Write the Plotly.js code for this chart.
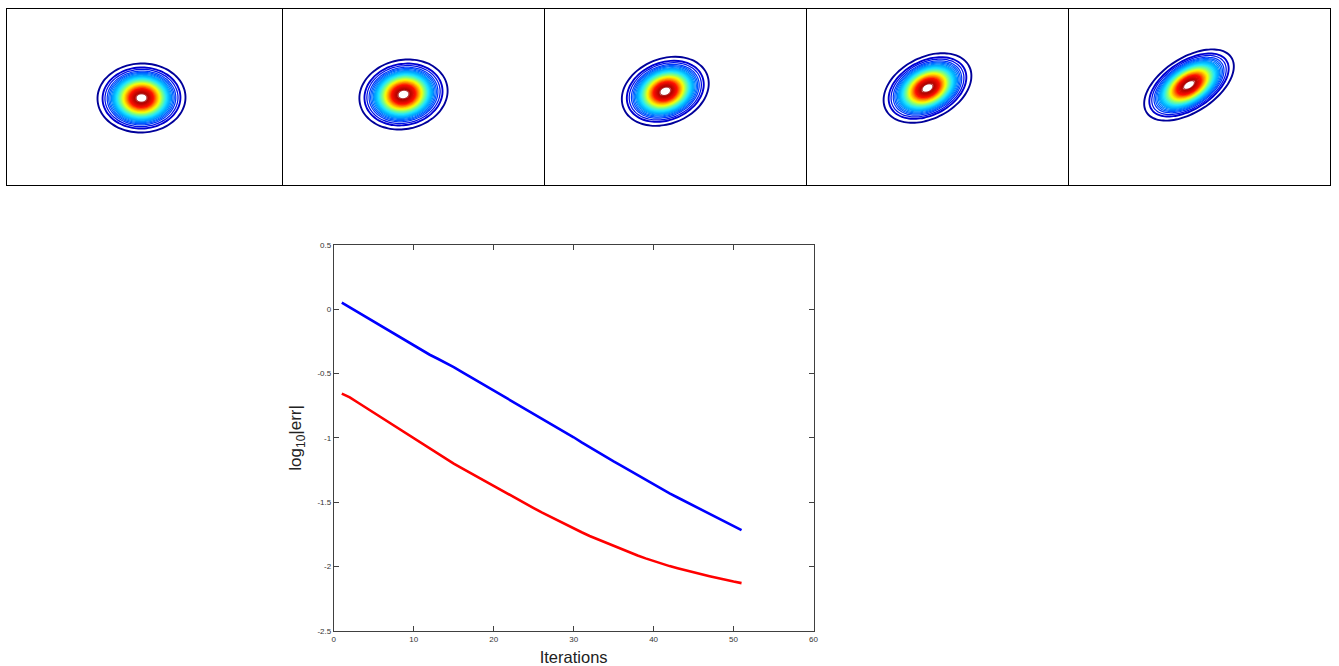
<!DOCTYPE html>
<html>
<head>
<meta charset="utf-8">
<script src="https://cdn.plot.ly/plotly-3.0.1.min.js"></script>
<style>html,body{margin:0;padding:0;background:#fff}#chart{width:1339px;height:666px}</style>
</head>
<body>
<div id="chart"></div>
<script>
// Line chart series
var iterations = [1,2,3,4,5,6,7,8,9,10,11,12,13,14,15,16,17,18,19,20,21,22,23,24,25,26,27,28,29,30,31,32,33,34,35,36,37,38,39,40,41,42,43,44,45,46,47,48,49,50,51];
var errBlue = [0.05,0.013,-0.024,-0.06,-0.097,-0.134,-0.17,-0.207,-0.244,-0.28,-0.317,-0.354,-0.385,-0.415,-0.45,-0.487,-0.523,-0.56,-0.596,-0.632,-0.668,-0.704,-0.741,-0.777,-0.813,-0.85,-0.886,-0.922,-0.958,-0.995,-1.035,-1.073,-1.111,-1.147,-1.183,-1.218,-1.254,-1.289,-1.325,-1.36,-1.396,-1.431,-1.463,-1.495,-1.527,-1.558,-1.59,-1.622,-1.654,-1.686,-1.717];
var errRed = [-0.656,-0.685,-0.725,-0.765,-0.805,-0.845,-0.885,-0.925,-0.965,-1.005,-1.045,-1.085,-1.12,-1.165,-1.2,-1.235,-1.27,-1.305,-1.34,-1.375,-1.41,-1.445,-1.48,-1.513,-1.545,-1.578,-1.61,-1.642,-1.673,-1.703,-1.733,-1.762,-1.788,-1.815,-1.842,-1.867,-1.891,-1.914,-1.936,-1.957,-1.977,-1.996,-2.013,-2.03,-2.045,-2.06,-2.075,-2.09,-2.104,-2.116,-2.128];
var xTicks = [0,10,20,30,40,50,60];
var yTicks = [0.5,0,-0.5,-1,-1.5,-2,-2.5];
var yTickLabels = ['0.5','0','-0.5','-1','-1.5','-2','-2.5'];

// Contour panels: ellipse
var panelLeft   = [7,283,545,807,1069];
var panelRight  = [282,544,806,1068,1330];
var centreX     = [141.5,403.5,665.3,927.5,1189];
var centreY     = [98,94.5,91.3,88,85];
var semiMajor   = [44,44.5,45,47,50.5];
var semiMinor   = [34.5,34.5,32.5,30.5,27];
var tiltDegrees = [2,12,22,28,33];

// Relative contour levels, outermost first
var ringLevels = [1.0,0.885,0.83,0.78,0.745,0.715,0.685,0.66,0.635,0.61,0.585,0.56,0.535,0.51,0.485,0.46,0.435,0.41,0.385,0.36,0.335,0.31,0.285,0.26,0.235,0.21,0.185,0.16,0.14,0.12];
var levelStops = [[1,'#00009a'],[0.85,'#0000e0'],[0.75,'#0050ff'],[0.62,'#00b4ff'],[0.55,'#20e8ff'],[0.47,'#80ff80'],[0.40,'#ffff00'],[0.33,'#ff9000'],[0.26,'#ff1000'],[0.12,'#a00000']];

function hex(c){return [parseInt(c.substr(1,2),16),parseInt(c.substr(3,2),16),parseInt(c.substr(5,2),16)];}
function ringColour(level){
  for(var i=1;i<levelStops.length;i++){
    if(level>=levelStops[i][0]){
      var a=levelStops[i-1],b=levelStops[i],f=(a[0]-level)/(a[0]-b[0]),p=hex(a[1]),q=hex(b[1]);
      return 'rgb('+[0,1,2].map(function(k){return Math.round(p[k]+(q[k]-p[k])*f);}).join(',')+')';
    }
  }
  return levelStops[levelStops.length-1][1];
}

var W=1339,H=666,boxTop=9,boxBottom=185;
var traces=[],layout={
  width:W,height:H,margin:{l:0,r:0,t:0,b:0},paper_bgcolor:'#fff',plot_bgcolor:'#fff',showlegend:false,
  font:{family:'"Liberation Sans",Arial,sans-serif',color:'#222'}
};

panelLeft.forEach(function(left,p){
  var n=p+1, xa='xaxis'+n, ya='yaxis'+n;
  layout[xa]={domain:[left/W,panelRight[p]/W],range:[left,panelRight[p]],showticklabels:false,ticks:'',showgrid:false,zeroline:false,showline:true,mirror:true,linecolor:'#000',linewidth:1,anchor:'y'+n};
  layout[ya]={domain:[(H-boxBottom)/H,(H-boxTop)/H],range:[boxBottom,boxTop],showticklabels:false,ticks:'',showgrid:false,zeroline:false,showline:true,mirror:true,linecolor:'#000',linewidth:1,anchor:'x'+n};
  var th=tiltDegrees[p]*Math.PI/180;
  ringLevels.forEach(function(level,i){
    var xs=[],ys=[];
    for(var d=0;d<=360;d+=6){
      var r=d*Math.PI/180,u=semiMajor[p]*level*Math.cos(r),v=semiMinor[p]*level*Math.sin(r);
      xs.push(centreX[p]+u*Math.cos(th)-v*Math.sin(th));
      ys.push(centreY[p]-u*Math.sin(th)-v*Math.cos(th));
    }
    traces.push({type:'scatter',mode:'lines',x:xs,y:ys,xaxis:'x'+n,yaxis:'y'+n,hoverinfo:'skip',
      line:{color:ringColour(level),width:level>0.86?1.9:(level>0.64?1.25:(level<0.16?1:1.9)),shape:'spline'}});
  });
});

var axisColor='#404040';
layout.xaxis6={domain:[333.8/W,813.5/W],range:[0,60],tickvals:xTicks,ticktext:xTicks.map(String),ticks:'inside',ticklen:5,tickwidth:1,tickcolor:axisColor,
  showgrid:false,zeroline:false,showline:true,mirror:'ticks',linecolor:axisColor,linewidth:1,tickfont:{size:8,color:'#333'},anchor:'y6',
  title:{text:'Iterations',font:{size:16.5,color:'#222'},standoff:9}};
layout.yaxis6={domain:[(H-631)/H,(H-244.8)/H],range:[-2.5,0.5],tickvals:yTicks,ticktext:yTickLabels,ticks:'inside',ticklen:5,tickwidth:1,tickcolor:axisColor,
  showgrid:false,zeroline:false,showline:true,mirror:'ticks',linecolor:axisColor,linewidth:1,tickfont:{size:8,color:'#333'},anchor:'x6',
  title:{text:'log<sub>10</sub>|err|',font:{size:17,color:'#222'},standoff:11}};
traces.push({type:'scatter',mode:'lines',x:iterations,y:errBlue,xaxis:'x6',yaxis:'y6',line:{color:'#0000ff',width:2.6}});
traces.push({type:'scatter',mode:'lines',x:iterations,y:errRed,xaxis:'x6',yaxis:'y6',line:{color:'#ff0000',width:2.6}});

Plotly.newPlot('chart',traces,layout,{displayModeBar:false,staticPlot:true});
</script>
</body>
</html>
